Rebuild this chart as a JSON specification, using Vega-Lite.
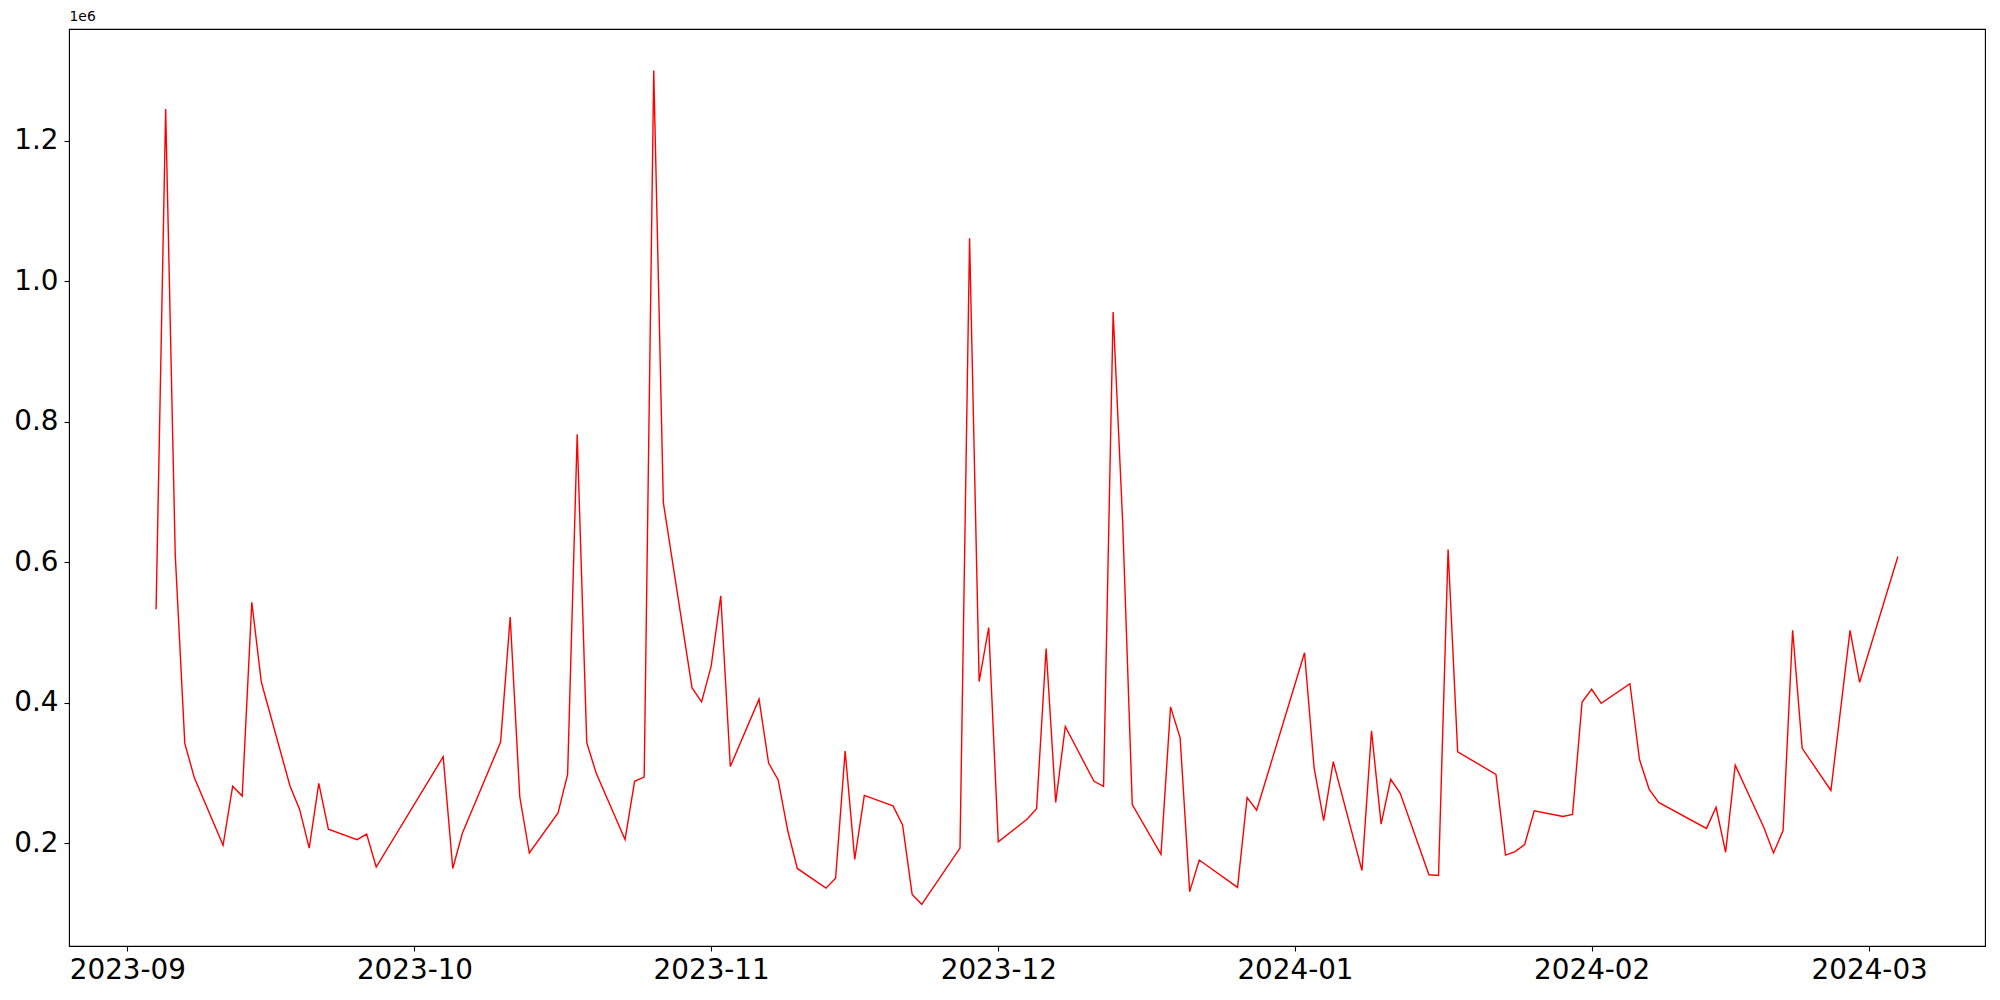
{
  "$schema": "https://vega.github.io/schema/vega-lite/v6.json",
  "width": 1916,
  "height": 917,
  "autosize": {"type": "none"},
  "padding": {"left": 69, "top": 29, "right": 15, "bottom": 54},
  "background": "white",
  "config": {
    "view": {"stroke": "black", "strokeWidth": 1.1},
    "font": "DejaVu Sans",
    "axis": {
      "grid": false,
      "domain": false,
      "tickColor": "black",
      "tickWidth": 1.1,
      "tickSize": 5,
      "labelColor": "black",
      "labelFont": "DejaVu Sans",
      "labelFontSize": 27.8,
      "labelPadding": 5
    }
  },
  "data": {
    "values": [
      {"date": "2023-09-04", "value": 533000},
      {"date": "2023-09-05", "value": 1245000},
      {"date": "2023-09-06", "value": 611000},
      {"date": "2023-09-07", "value": 342000},
      {"date": "2023-09-08", "value": 293000},
      {"date": "2023-09-11", "value": 197000},
      {"date": "2023-09-12", "value": 281000},
      {"date": "2023-09-13", "value": 267000},
      {"date": "2023-09-14", "value": 543000},
      {"date": "2023-09-15", "value": 429000},
      {"date": "2023-09-18", "value": 281000},
      {"date": "2023-09-19", "value": 248000},
      {"date": "2023-09-20", "value": 193000},
      {"date": "2023-09-21", "value": 285000},
      {"date": "2023-09-22", "value": 220000},
      {"date": "2023-09-25", "value": 205000},
      {"date": "2023-09-26", "value": 213000},
      {"date": "2023-09-27", "value": 166000},
      {"date": "2023-10-04", "value": 323000},
      {"date": "2023-10-05", "value": 164000},
      {"date": "2023-10-06", "value": 214000},
      {"date": "2023-10-10", "value": 344000},
      {"date": "2023-10-11", "value": 522000},
      {"date": "2023-10-12", "value": 266000},
      {"date": "2023-10-13", "value": 186000},
      {"date": "2023-10-16", "value": 243000},
      {"date": "2023-10-17", "value": 298000},
      {"date": "2023-10-18", "value": 782000},
      {"date": "2023-10-19", "value": 343000},
      {"date": "2023-10-20", "value": 299000},
      {"date": "2023-10-23", "value": 205000},
      {"date": "2023-10-24", "value": 288000},
      {"date": "2023-10-25", "value": 294000},
      {"date": "2023-10-26", "value": 1300000},
      {"date": "2023-10-27", "value": 685000},
      {"date": "2023-10-30", "value": 421000},
      {"date": "2023-10-31", "value": 401000},
      {"date": "2023-11-01", "value": 452000},
      {"date": "2023-11-02", "value": 552000},
      {"date": "2023-11-03", "value": 309000},
      {"date": "2023-11-06", "value": 405000},
      {"date": "2023-11-07", "value": 314000},
      {"date": "2023-11-08", "value": 290000},
      {"date": "2023-11-09", "value": 218000},
      {"date": "2023-11-10", "value": 164000},
      {"date": "2023-11-13", "value": 136000},
      {"date": "2023-11-14", "value": 150000},
      {"date": "2023-11-15", "value": 331000},
      {"date": "2023-11-16", "value": 177000},
      {"date": "2023-11-17", "value": 268000},
      {"date": "2023-11-20", "value": 253000},
      {"date": "2023-11-21", "value": 226000},
      {"date": "2023-11-22", "value": 127000},
      {"date": "2023-11-23", "value": 113000},
      {"date": "2023-11-27", "value": 193000},
      {"date": "2023-11-28", "value": 1061000},
      {"date": "2023-11-29", "value": 430000},
      {"date": "2023-11-30", "value": 507000},
      {"date": "2023-12-01", "value": 202000},
      {"date": "2023-12-04", "value": 234000},
      {"date": "2023-12-05", "value": 249000},
      {"date": "2023-12-06", "value": 477000},
      {"date": "2023-12-07", "value": 258000},
      {"date": "2023-12-08", "value": 366000},
      {"date": "2023-12-11", "value": 288000},
      {"date": "2023-12-12", "value": 281000},
      {"date": "2023-12-13", "value": 956000},
      {"date": "2023-12-14", "value": 656000},
      {"date": "2023-12-15", "value": 255000},
      {"date": "2023-12-18", "value": 184000},
      {"date": "2023-12-19", "value": 394000},
      {"date": "2023-12-20", "value": 350000},
      {"date": "2023-12-21", "value": 131000},
      {"date": "2023-12-22", "value": 176000},
      {"date": "2023-12-26", "value": 137000},
      {"date": "2023-12-27", "value": 265000},
      {"date": "2023-12-28", "value": 247000},
      {"date": "2024-01-02", "value": 471000},
      {"date": "2024-01-03", "value": 307000},
      {"date": "2024-01-04", "value": 232000},
      {"date": "2024-01-05", "value": 316000},
      {"date": "2024-01-08", "value": 161000},
      {"date": "2024-01-09", "value": 360000},
      {"date": "2024-01-10", "value": 227000},
      {"date": "2024-01-11", "value": 291000},
      {"date": "2024-01-12", "value": 271000},
      {"date": "2024-01-15", "value": 155000},
      {"date": "2024-01-16", "value": 154000},
      {"date": "2024-01-17", "value": 618000},
      {"date": "2024-01-18", "value": 330000},
      {"date": "2024-01-22", "value": 298000},
      {"date": "2024-01-23", "value": 183000},
      {"date": "2024-01-24", "value": 188000},
      {"date": "2024-01-25", "value": 198000},
      {"date": "2024-01-26", "value": 246000},
      {"date": "2024-01-29", "value": 238000},
      {"date": "2024-01-30", "value": 241000},
      {"date": "2024-01-31", "value": 401000},
      {"date": "2024-02-01", "value": 419000},
      {"date": "2024-02-02", "value": 399000},
      {"date": "2024-02-05", "value": 427000},
      {"date": "2024-02-06", "value": 319000},
      {"date": "2024-02-07", "value": 277000},
      {"date": "2024-02-08", "value": 258000},
      {"date": "2024-02-13", "value": 221000},
      {"date": "2024-02-14", "value": 251000},
      {"date": "2024-02-15", "value": 187000},
      {"date": "2024-02-16", "value": 311000},
      {"date": "2024-02-19", "value": 222000},
      {"date": "2024-02-20", "value": 186000},
      {"date": "2024-02-21", "value": 218000},
      {"date": "2024-02-22", "value": 503000},
      {"date": "2024-02-23", "value": 335000},
      {"date": "2024-02-26", "value": 275000},
      {"date": "2024-02-28", "value": 503000},
      {"date": "2024-02-29", "value": 429000},
      {"date": "2024-03-04", "value": 608000}
    ]
  },
  "mark": {"type": "line", "color": "#ff0000", "strokeWidth": 1.4, "clip": true},
  "encoding": {
    "x": {
      "field": "date",
      "type": "temporal",
      "scale": {
        "type": "utc",
        "domain": [
          {"year": 2023, "month": 8, "date": 25, "hours": 21, "minutes": 36, "utc": true},
          {"year": 2024, "month": 3, "date": 13, "hours": 2, "minutes": 24, "utc": true}
        ]
      },
      "axis": {
        "title": null,
        "format": "%Y-%m",
        "values": [
          {"year": 2023, "month": 9, "date": 1, "utc": true},
          {"year": 2023, "month": 10, "date": 1, "utc": true},
          {"year": 2023, "month": 11, "date": 1, "utc": true},
          {"year": 2023, "month": 12, "date": 1, "utc": true},
          {"year": 2024, "month": 1, "date": 1, "utc": true},
          {"year": 2024, "month": 2, "date": 1, "utc": true},
          {"year": 2024, "month": 3, "date": 1, "utc": true}
        ],
        "labelPadding": 5,
        "labelBaseline": "top",
        "labelFlush": false
      }
    },
    "y": {
      "field": "value",
      "type": "quantitative",
      "scale": {"domain": [53600, 1359000], "nice": false, "zero": false},
      "axis": {
        "title": "1e6",
        "titleAngle": 0,
        "titleX": 0,
        "titleY": -6,
        "titleAlign": "left",
        "titleBaseline": "bottom",
        "titleFontSize": 13.9,
        "titleFontWeight": "normal",
        "titleFont": "DejaVu Sans",
        "titleColor": "black",
        "values": [200000, 400000, 600000, 800000, 1000000, 1200000],
        "labelExpr": "format(datum.value / 1000000, '.1f')",
        "labelPadding": 6,
        "labelFlush": false
      }
    }
  }
}
